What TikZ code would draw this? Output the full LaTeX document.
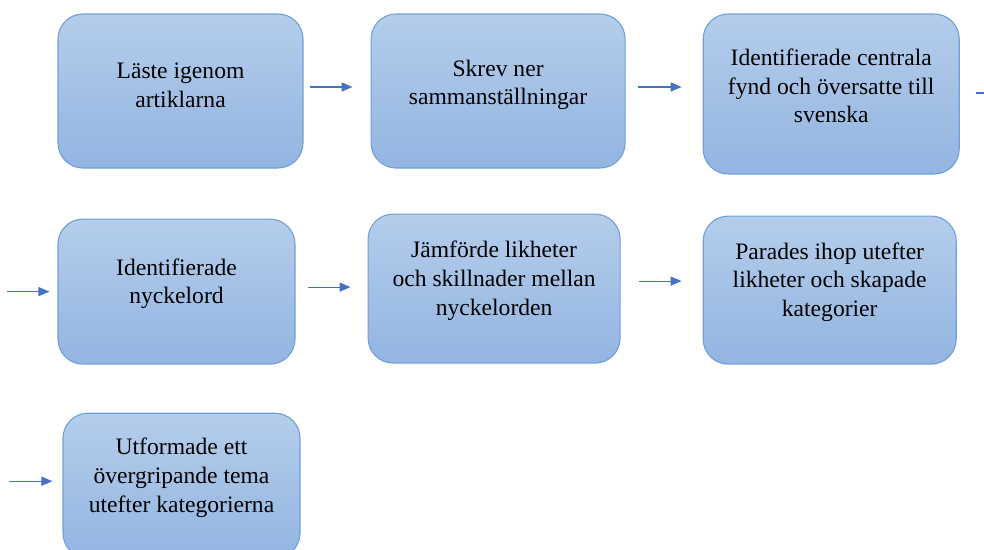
\documentclass[tikz,border=0pt]{standalone}
\usepackage{fontspec}
\setmainfont{Liberation Serif}
\usetikzlibrary{positioning,arrows.meta}

\definecolor{boxtop}{RGB}{180,205,235}
\definecolor{boxbot}{RGB}{147,181,225}
\definecolor{boxline}{RGB}{112,160,218}
\definecolor{arrowblue}{RGB}{68,114,196}

\begin{document}
\begin{tikzpicture}[
    x=1pt, y=1pt,
    stepbox/.style={rectangle, draw=boxline, line width=1.1pt, top color=boxtop, bottom color=boxbot, rounded corners=25pt},
    txt/.style={align=center, inner sep=0pt, font=\fontsize{23.6}{28.7}\selectfont},
    arrow/.style={-{Triangle[length=11pt,width=9pt]}, line width=1.2pt, draw=arrowblue},
]
    \clip (0,0) rectangle (984,-549);

    % First row
    \node[stepbox, minimum width=245pt, minimum height=154pt, label={[txt,yshift=6pt]center:{Läste igenom\\artiklarna}}] (read) at (180.5,-91) {};
    \node[stepbox, right=67pt of read, minimum width=254pt, minimum height=154pt, label={[txt,yshift=6pt]center:{Skrev ner\\sammanställningar}}] (summary) {};
    \node[stepbox, right=77pt of summary, yshift=-3pt, minimum width=256pt, minimum height=160pt, label={[txt,yshift=8pt]center:{Identifierade centrala\\fynd och översatte till\\svenska}}] (findings) {};

    % Second row
    \node[stepbox, below=50pt of read, xshift=-4pt, minimum width=237pt, minimum height=145pt, label={[txt,yshift=8pt]center:{Identifierade\\nyckelord}}] (keywords) {};
    \node[stepbox, right=72pt of keywords, yshift=3pt, minimum width=252pt, minimum height=149pt, label={[txt,yshift=8pt]center:{Jämförde likheter\\och skillnader mellan\\nyckelorden}}] (compare) {};
    \node[stepbox, right=82pt of compare, yshift=-1.5pt, minimum width=253pt, minimum height=148pt, label={[txt,yshift=8pt]center:{Parades ihop utefter\\likheter och skapade\\kategorier}}] (categories) {};

    % Third row
    \node[stepbox, below=48pt of keywords, xshift=5pt, minimum width=237pt, minimum height=145pt, label={[txt,yshift=8pt]center:{Utformade ett\\övergripande tema\\utefter kategorierna}}] (theme) {};

    % Loose ends at the edges
    \coordinate (out1) at ([shift={(45,1)}]findings.east);
    \coordinate (in2) at ([xshift=-50]keywords.west);
    \coordinate (in3) at ([shift={(-53,4.5)}]theme.west);

    % Arrows between the steps
    \draw[arrow] ([shift={(6,4)}]read.east) -- ([shift={(-18,4)}]summary.west);
    \draw[arrow] ([shift={(12,4)}]summary.east) -- ([shift={(-21,7)}]findings.west);
    \draw[arrow] ([shift={(16,1)}]findings.east) -- (out1);
    \draw[arrow] (in2) -- ([xshift=-8]keywords.west);
    \draw[arrow] ([shift={(12,4.5)}]keywords.east) -- ([shift={(-17,1.5)}]compare.west);
    \draw[arrow] ([shift={(18,7.5)}]compare.east) -- ([shift={(-21,9)}]categories.west);
    \draw[arrow] (in3) -- ([shift={(-10,4.5)}]theme.west);

\end{tikzpicture}
\end{document}
